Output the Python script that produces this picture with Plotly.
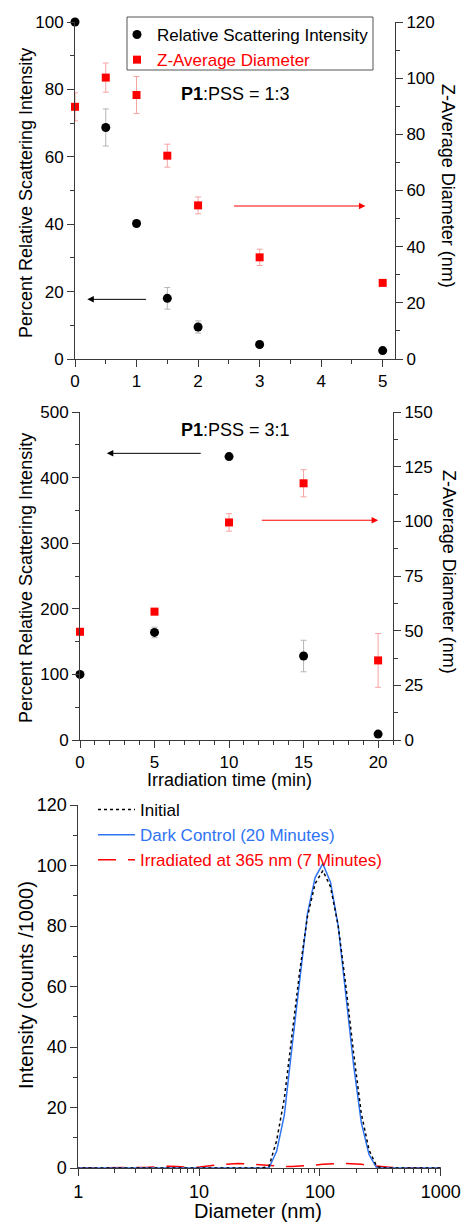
import plotly.graph_objects as go

W, H = 464, 1222
FONT = "Liberation Sans, Arial, sans-serif"
AX = "#3a3a3a"

# ---------- Panel 1 data (P1:PSS = 1:3) ----------
t1 = [0, 0.5, 1, 1.5, 2, 3, 5]
intensity1 = [100, 68.7, 40.2, 18.0, 9.5, 4.3, 2.5]
intensity1_err = [0, 5.5, 0.6, 3.2, 1.8, 0.7, 0.6]
zavg1 = [89.8, 100.2, 94.0, 72.4, 54.7, 36.2, 27.1]
zavg1_err = [5.0, 5.2, 6.6, 4.1, 3.0, 2.9, 1.0]

# ---------- Panel 2 data (P1:PSS = 3:1) ----------
t2 = [0, 5, 10, 15, 20]
intensity2 = [100, 164, 432, 128, 9]
intensity2_err = [3, 8, 4, 24, 2]
zavg2 = [49.5, 58.7, 99.5, 117.4, 36.4]
zavg2_err = [1.5, 1.5, 4.0, 6.2, 12.3]

# ---------- Panel 3 data (size distributions) ----------
diam = [0.9649, 1.117, 1.294, 1.499, 1.736, 2.010, 2.328, 2.696, 3.122, 3.615,
        4.187, 4.849, 5.615, 6.503, 7.531, 8.721, 10.10, 11.70, 13.54, 15.69,
        18.17, 21.04, 24.36, 28.21, 32.67, 37.84, 43.82, 50.75, 58.77, 68.06,
        78.82, 91.28, 105.7, 122.4, 141.8, 164.2, 190.1, 220.2, 255.0, 295.3,
        342.0, 396.1, 458.7, 531.2, 615.1, 712.4, 825.0, 955.4, 1106]
initial = [0, 0, 0, 0, 0, 0, 0, 0, 0, 0,
           0, 0, 0, 0, 0, 0, 0, 0, 0, 0,
           0, 0, 0, 0, 0, 0.5, 9, 23, 44, 65,
           83, 94, 98.3, 93, 80, 60, 38, 18, 6, 0.5,
           0, 0, 0, 0, 0, 0, 0, 0, 0]
dark = [0, 0, 0, 0, 0, 0, 0, 0, 0, 0,
        0, 0, 0, 0, 0, 0, 0, 0, 0, 0,
        0, 0, 0, 0, 0, 0, 5.5, 17.5, 40, 63,
        84, 96, 100.6, 94.5, 80, 57, 34, 15, 4.5, 0,
        0, 0, 0, 0, 0, 0, 0, 0, 0]
irradiated = [0, 0, 0, 0, 0, 0, 0, 0, 0.1, 0.2,
              0.3, 0.5, 0.6, 0.5, 0.3, 0.2, 0.3, 0.5, 0.9, 1.2,
              1.4, 1.5, 1.4, 1.2, 1.0, 0.8, 0.6, 0.5, 0.5, 0.6,
              0.8, 1.0, 1.2, 1.4, 1.5, 1.5, 1.4, 1.2, 0.9, 0.6,
              0.4, 0.2, 0.1, 0, 0, 0, 0, 0, 0]

RED = "#ff0000"
BLUE = "#2f74f2"
GRAY_ERR = "#b5b5b5"
RED_ERR = "#f6a3a3"


def px_x(p):
    return p / W


def px_y(p):
    return 1 - p / H


fig = go.Figure()

# Panel 1
fig.add_trace(go.Scatter(
    x=t1, y=intensity1, mode="markers", xaxis="x", yaxis="y",
    name="Relative Scattering Intensity",
    marker=dict(symbol="circle", size=9, color="black"),
    error_y=dict(type="data", array=intensity1_err, color=GRAY_ERR, thickness=1, width=3),
    cliponaxis=False, legend="legend"))
fig.add_trace(go.Scatter(
    x=t1, y=zavg1, mode="markers", xaxis="x", yaxis="y2",
    name="<span style='color:#ff0000'>Z-Average Diameter</span>",
    marker=dict(symbol="square", size=8, color=RED),
    error_y=dict(type="data", array=zavg1_err, color=RED_ERR, thickness=1, width=3),
    cliponaxis=False, legend="legend"))

# Panel 2
fig.add_trace(go.Scatter(
    x=t2, y=intensity2, mode="markers", xaxis="x2", yaxis="y3", showlegend=False,
    marker=dict(symbol="circle", size=9, color="black"),
    error_y=dict(type="data", array=intensity2_err, color=GRAY_ERR, thickness=1, width=3),
    cliponaxis=False))
fig.add_trace(go.Scatter(
    x=t2, y=zavg2, mode="markers", xaxis="x2", yaxis="y4", showlegend=False,
    marker=dict(symbol="square", size=8, color=RED),
    error_y=dict(type="data", array=zavg2_err, color=RED_ERR, thickness=1, width=3),
    cliponaxis=False))

# Panel 3
fig.add_trace(go.Scatter(
    x=diam, y=irradiated, mode="lines", xaxis="x3", yaxis="y5",
    name="<span style='color:#ff0000'>Irradiated at 365 nm (7 Minutes)</span>",
    line=dict(color=RED, width=1.5, dash="18px,12px"), legend="legend2", legendrank=3))
fig.add_trace(go.Scatter(
    x=diam, y=dark, mode="lines", xaxis="x3", yaxis="y5",
    name="<span style='color:#2f74f2'>Dark Control (20 Minutes)</span>",
    line=dict(color=BLUE, width=1.5), legend="legend2", legendrank=2))
fig.add_trace(go.Scatter(
    x=diam, y=initial, mode="lines", xaxis="x3", yaxis="y5",
    name="Initial",
    line=dict(color="black", width=1.5, dash="dot"), legend="legend2", legendrank=1))

common = dict(showline=True, linecolor=AX, linewidth=1, ticks="outside", tickcolor=AX,
              ticklen=7, tickwidth=1, showgrid=False, zeroline=False,
              tickfont=dict(family=FONT, size=17, color="black"), automargin=False)
common3 = dict(common, tickfont=dict(family=FONT, size=18, color="black"))
minor = dict(ticks="outside", ticklen=4, tickcolor=AX, tickwidth=1, showgrid=False)

p1x = [px_x(75), px_x(395)]
p1y = [px_y(359), px_y(22)]
p2x = [px_x(80), px_x(393)]
p2y = [px_y(740), px_y(412)]
p3x = [px_x(78.3), px_x(440.7)]
p3y = [px_y(1168), px_y(805)]

fig.update_layout(
    template="none",
    width=W, height=H, margin=dict(l=0, r=0, t=0, b=0, pad=0, autoexpand=False),
    paper_bgcolor="white", plot_bgcolor="white",
    font=dict(family=FONT, size=16, color="black"),
    xaxis=dict(domain=p1x, anchor="y", range=[0, 5.2], dtick=1, tick0=0,
               minor=dict(dtick=0.5, **minor), **common),
    yaxis=dict(domain=p1y, anchor="x", range=[0, 100], dtick=20,
               minor=dict(dtick=10, **minor), **common),
    yaxis2=dict(overlaying="y", anchor="x", side="right", range=[0, 120], dtick=20,
                minor=dict(dtick=10, **minor), **common),
    xaxis2=dict(domain=p2x, anchor="y3", range=[0, 21], dtick=5, tick0=0,
                minor=dict(dtick=1, **minor), **common),
    yaxis3=dict(domain=p2y, anchor="x2", range=[0, 500], dtick=100,
                minor=dict(dtick=50, **minor), **common),
    yaxis4=dict(overlaying="y3", anchor="x2", side="right", range=[0, 150], dtick=25,
                minor=dict(dtick=12.5, **minor), **common),
    xaxis3=dict(domain=p3x, anchor="y5", type="log", range=[0, 3],
                tickmode="array", tickvals=[1, 10, 100, 1000], ticktext=["1", "10", "100", "1000"],
                minor=dict(tickmode="array",
                           tickvals=[m * d for d in (1, 10, 100) for m in range(2, 10)],
                           **minor), **common3),
    xaxis4=dict(domain=p3x, anchor="y5", overlaying="x3", type="log", range=[0, 3],
                tickmode="array", tickvals=[1, 10, 100, 1000], showticklabels=False,
                ticks="inside", ticklen=6, tickcolor=AX, showline=False, showgrid=False,
                zeroline=False, automargin=False),
    yaxis5=dict(domain=p3y, anchor="x3", range=[0, 120], dtick=20,
                minor=dict(dtick=10, **minor), **common3),
    legend=dict(x=px_x(117), y=px_y(17), xanchor="left", yanchor="top",
                borderwidth=0, bgcolor="rgba(255,255,255,0)",
                font=dict(family=FONT, size=17, color="black"),
                itemwidth=30, tracegroupgap=0),
    legend2=dict(x=px_x(93), y=px_y(792), xanchor="left", yanchor="top",
                 borderwidth=0, bgcolor="rgba(255,255,255,0)",
                 font=dict(family=FONT, size=17, color="black"),
                 itemwidth=37, tracegroupgap=0),
    shapes=[dict(type="rect", xref="paper", yref="paper",
                 x0=px_x(127), x1=px_x(373), y0=px_y(70), y1=px_y(17),
                 line=dict(color="#555555", width=1), fillcolor="rgba(0,0,0,0)", layer="above")],
)

ann = []
tf = dict(family=FONT, size=18, color="black")
tf3 = dict(family=FONT, size=20, color="black")
center = dict(xref="paper", yref="paper", xanchor="center", yanchor="middle", showarrow=False)
# Axis titles
ann.append(dict(text="Percent Relative Scattering Intensity", x=px_x(26), y=px_y(193),
                textangle=-90, font=tf, **center))
ann.append(dict(text="Z-Average Diameter (nm)", x=px_x(448), y=px_y(186),
                textangle=90, font=tf, **center))
ann.append(dict(text="Percent Relative Scattering Intensity", x=px_x(26), y=px_y(578),
                textangle=-90, font=tf, **center))
ann.append(dict(text="Z-Average Diameter (nm)", x=px_x(449), y=px_y(572),
                textangle=90, font=tf, **center))
ann.append(dict(text="Irradiation time (min)", x=px_x(229), y=px_y(780), font=tf, **center))
ann.append(dict(text="Intensity (counts /1000)", x=px_x(26), y=px_y(985),
                textangle=-90, font=tf3, **center))
ann.append(dict(text="Diameter (nm)", x=px_x(258), y=px_y(1211), font=tf3, **center))
# Panel labels
ann.append(dict(text="<b>P1</b>:PSS = 1:3", x=px_x(236), y=px_y(94), font=tf, **center))
ann.append(dict(text="<b>P1</b>:PSS = 3:1", x=px_x(235), y=px_y(430), font=tf, **center))
# Arrows
arrow = dict(text="", showarrow=True, arrowhead=2, arrowsize=1.3, arrowwidth=1)
ann.append(dict(x=0.2, y=17.7, ax=1.18, ay=17.7, xref="x", yref="y", axref="x", ayref="y",
                arrowcolor="black", **arrow))
ann.append(dict(x=4.72, y=45.4, ax=2.56, ay=45.4, xref="x", yref="y", axref="x", ayref="y",
                arrowcolor=RED, **arrow))
ann.append(dict(x=1.8, y=437, ax=8.2, ay=437, xref="x2", yref="y3", axref="x2", ayref="y3",
                arrowcolor="black", **arrow))
ann.append(dict(x=20.0, y=335, ax=12.1, ay=335, xref="x2", yref="y3", axref="x2", ayref="y3",
                arrowcolor=RED, **arrow))
fig.update_layout(annotations=ann)

fig.write_html("out.html", config={"displayModeBar": False},
               post_script="document.body.style.margin='0';document.body.style.overflow='hidden';")
